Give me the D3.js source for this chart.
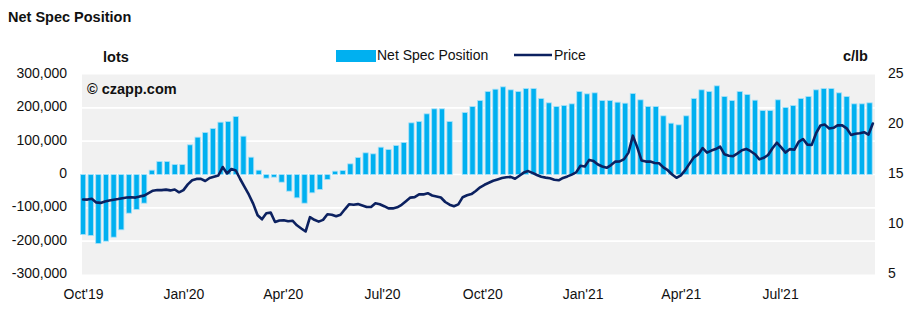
<!DOCTYPE html>
<html><head><meta charset="utf-8">
<script src="https://cdn.jsdelivr.net/npm/d3@7"></script>
<style>
body{margin:0;background:#fff}
svg{display:block}
text{font-family:"Liberation Sans",Arial,sans-serif;fill:#111}
</style>
</head><body>
<svg id="chart" width="924" height="322"></svg>
<script>
// ---------- DATA ----------
const positionStart = "2019-10-01";          // weekly reports (Tuesdays)
const netSpecPosition = [
 -180000,-183000,-207000,-200000,-188000,-166000,-116000,-105000,-86000,13000,
 39000,39000,30000,30000,89000,112000,126000,138000,157000,159000,
 174000,115000,52000,13000,-11000,-8000,-23000,-50000,-70000,-86000,
 -55000,-45000,-15000,10000,12000,32000,51000,65000,62000,82000,
 75000,87000,96000,155000,159000,182000,197000,197000,159000,null,
 186000,204000,222000,249000,256000,263000,254000,249000,258000,258000,
 228000,215000,204000,207000,212000,249000,242000,245000,222000,222000,
 217000,214000,243000,224000,204000,204000,176000,154000,149000,176000,
 228000,254000,249000,266000,234000,222000,249000,240000,223000,192000,
 192000,224000,201000,207000,228000,234000,254000,258000,258000,245000,
 234000,212000,212000,215000
];
const priceStart = "2019-10-01";
const priceStepDays = 4;
const price = [
 12.50,12.49,12.58,12.21,12.16,12.31,12.40,12.48,12.55,12.63,
 12.70,12.73,12.69,12.81,12.89,13.14,13.38,13.45,13.44,13.49,
 13.41,13.50,13.22,13.44,14.01,14.42,14.56,14.57,14.35,14.65,
 14.77,14.90,15.75,15.10,15.55,15.40,14.55,13.76,12.98,12.06,
 10.92,10.52,11.12,11.19,10.25,10.40,10.42,10.32,10.38,9.92,
 9.60,9.30,10.73,10.47,10.29,10.46,11.02,10.97,10.82,10.98,
 11.52,12.03,11.97,12.04,11.90,11.75,11.75,12.12,12.03,11.83,
 11.61,11.61,11.72,11.97,12.33,12.69,12.74,13.01,13.01,13.13,
 12.90,12.81,12.70,12.25,11.98,11.83,12.01,12.73,12.92,13.04,
 13.35,13.72,13.97,14.17,14.37,14.50,14.64,14.73,14.76,14.57,
 14.87,15.19,15.34,15.16,14.95,14.77,14.69,14.62,14.48,14.42,
 14.66,14.81,14.99,15.21,15.87,15.80,16.46,16.34,16.00,15.80,
 15.67,15.94,16.29,16.31,16.54,17.19,18.88,17.74,16.39,16.29,
 16.29,16.15,16.13,15.71,15.43,15.00,14.67,14.92,15.44,16.09,
 16.72,17.01,17.64,17.19,17.39,17.54,17.79,17.02,16.87,16.83,
 17.11,17.42,17.56,17.33,17.03,16.51,16.67,16.95,17.63,18.18,
 17.71,17.19,17.54,17.47,18.26,18.55,17.99,17.96,19.13,19.90,
 19.99,19.60,19.67,19.93,19.91,19.62,18.96,19.08,19.13,19.23,
 18.98,20.10
];
const leftTicks = [300000,200000,100000,0,-100000,-200000,-300000];
const rightTicks = [25,20,15,10,5];
const xTickDates = ["2019-10-01","2020-01-01","2020-04-01","2020-07-01","2020-10-01","2021-01-01","2021-04-01","2021-07-01"];
const xTickLabels = ["Oct'19","Jan'20","Apr'20","Jul'20","Oct'20","Jan'21","Apr'21","Jul'21"];
const xDomain = ["2019-09-30","2021-09-26"];

// ---------- LAYOUT ----------
const svg = d3.select("#chart");
const L = 82, R = 875, T = 74.5, B = 274.5;
const parse = d3.utcParse("%Y-%m-%d");
const x = d3.scaleUtc().domain(xDomain.map(parse)).range([L, R]);
const yL = d3.scaleLinear().domain([-300000, 300000]).range([B, T]);
const yR = d3.scaleLinear().domain([5, 25]).range([B, T]);

// plot background
svg.append("rect").attr("x", L).attr("y", T).attr("width", R - L).attr("height", B - T).attr("fill", "#f1f1f1");
// gridlines
svg.append("g").selectAll("line").data(leftTicks.filter(d => d > -300000 && d < 300000)).join("line")
  .attr("x1", L).attr("x2", R).attr("y1", d => yL(d)).attr("y2", d => yL(d))
  .attr("stroke", "#fff").attr("stroke-width", 1.6);

// bars
const p0 = parse(positionStart);
const bars = netSpecPosition.map((v, i) => ({date: d3.utcDay.offset(p0, 7 * i), v})).filter(d => d.v !== null);
const bw = 5.3;
svg.append("g").selectAll("rect").data(bars).join("rect")
  .attr("x", d => x(d.date) - bw / 2)
  .attr("width", bw)
  .attr("y", d => yL(Math.max(0, d.v)))
  .attr("height", d => Math.abs(yL(d.v) - yL(0)))
  .attr("fill", "#00b0f0")
  .attr("stroke", "#a9e2f8").attr("stroke-width", 0.8);

// price line
const q0 = parse(priceStart);
const pts = price.map((v, i) => ({date: d3.utcDay.offset(q0, priceStepDays * i), v}));
svg.append("path").datum(pts)
  .attr("d", d3.line().x(d => x(d.date)).y(d => yR(d.v)))
  .attr("fill", "none").attr("stroke", "#0c2160").attr("stroke-width", 2.6)
  .attr("stroke-linejoin", "round").attr("stroke-linecap", "round");

// axes
const fmtL = d => (d < 0 ? "-" : "") + d3.format(",")(Math.abs(d));
const gL = svg.append("g").attr("transform", `translate(${L},0)`)
  .call(d3.axisLeft(yL).tickValues(leftTicks).tickFormat(fmtL).tickSize(0).tickPadding(15));
const gR = svg.append("g").attr("transform", `translate(${R},0)`)
  .call(d3.axisRight(yR).tickValues(rightTicks).tickSize(0).tickPadding(13));
const gB = svg.append("g").attr("transform", `translate(0,${B})`)
  .call(d3.axisBottom(x).tickValues(xTickDates.map(parse)).tickFormat((d, i) => xTickLabels[i]).tickSize(0).tickPadding(15));
[gL, gR, gB].forEach(g => {
  g.select(".domain").remove();
  g.selectAll("text").attr("font-size", 14).attr("fill", "#111")
   .style("font-family", '"Liberation Sans",Arial,sans-serif');
});
gL.selectAll("text").attr("dy", "0.22em");
gR.selectAll("text").attr("dy", "0.22em");

// titles & labels
svg.append("text").attr("x", 8).attr("y", 22).attr("font-size", 14.5).attr("font-weight", "bold").text("Net Spec Position");
svg.append("text").attr("x", 103).attr("y", 62).attr("font-size", 14.5).attr("font-weight", "bold").text("lots");
svg.append("text").attr("x", 843).attr("y", 61).attr("font-size", 14.5).attr("font-weight", "bold").text("c/lb");
svg.append("text").attr("x", 87).attr("y", 94).attr("font-size", 14.5).attr("font-weight", "bold").text("© czapp.com");

// legend
svg.append("rect").attr("x", 336).attr("y", 50).attr("width", 40).attr("height", 12).attr("fill", "#00b0f0");
svg.append("text").attr("x", 377).attr("y", 60).attr("font-size", 14).text("Net Spec Position");
svg.append("line").attr("x1", 514).attr("x2", 552).attr("y1", 55).attr("y2", 55)
  .attr("stroke", "#0c2160").attr("stroke-width", 2.6);
svg.append("text").attr("x", 554).attr("y", 60).attr("font-size", 14).text("Price");
</script>
</body></html>
